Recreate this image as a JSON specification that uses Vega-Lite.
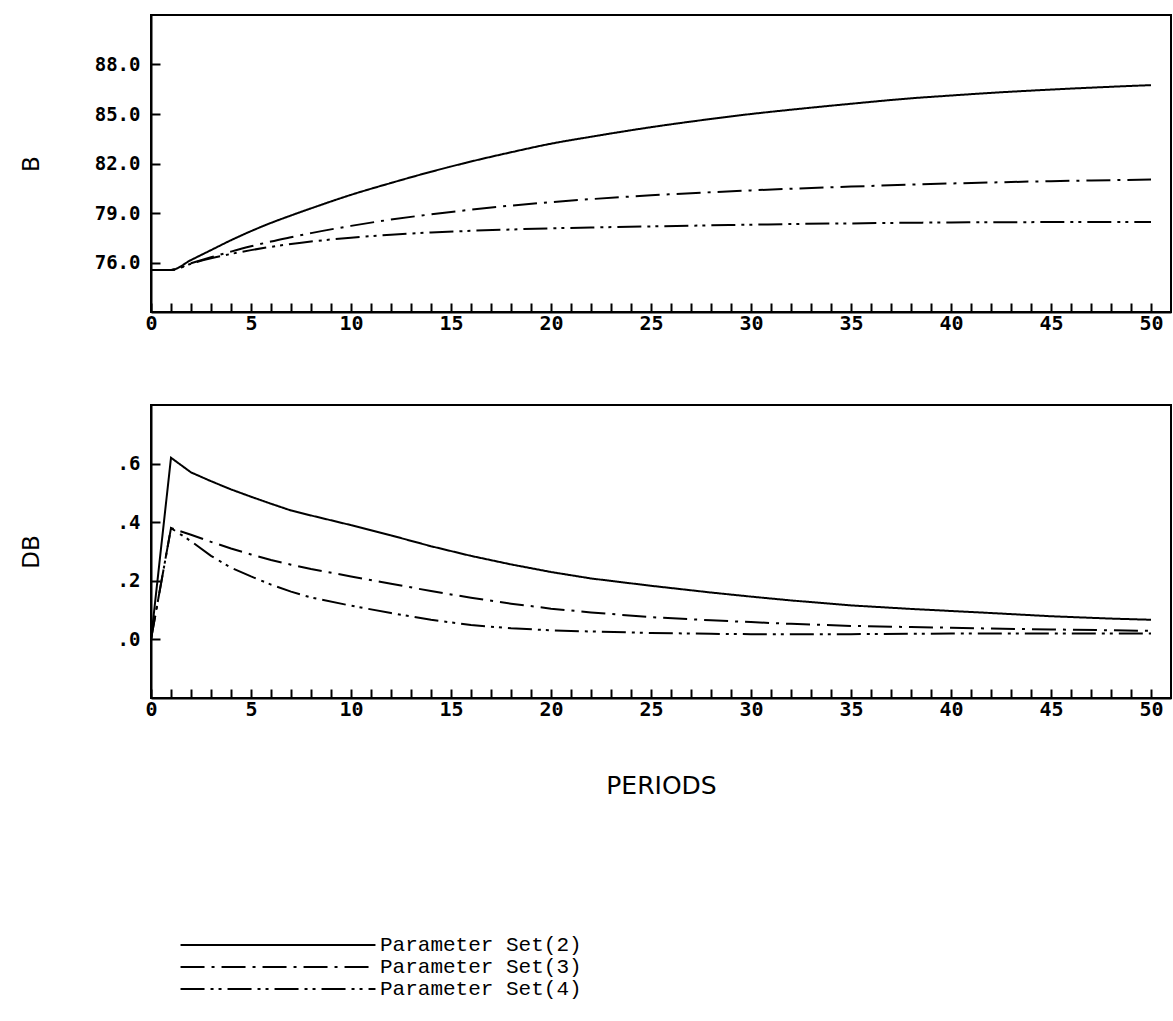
{
"$schema": "https://vega.github.io/schema/vega-lite/v6.json",
"background": "white",
"padding": {"left": 19, "top": 14, "right": 0, "bottom": 12},
"data": {"values": [
{"p":0,"s":"Parameter Set(2)","B":75.55,"DB":0},
{"p":1,"s":"Parameter Set(2)","B":75.55,"DB":0.62},
{"p":2,"s":"Parameter Set(2)","B":76.15,"DB":0.57},
{"p":3,"s":"Parameter Set(2)","B":76.75,"DB":0.54},
{"p":4,"s":"Parameter Set(2)","B":77.35,"DB":0.512},
{"p":5,"s":"Parameter Set(2)","B":77.9,"DB":0.487},
{"p":6,"s":"Parameter Set(2)","B":78.4,"DB":0.463},
{"p":7,"s":"Parameter Set(2)","B":78.85,"DB":0.44},
{"p":8,"s":"Parameter Set(2)","B":79.28,"DB":0.423},
{"p":10,"s":"Parameter Set(2)","B":80.1,"DB":0.39},
{"p":12,"s":"Parameter Set(2)","B":80.82,"DB":0.355},
{"p":14,"s":"Parameter Set(2)","B":81.5,"DB":0.318},
{"p":16,"s":"Parameter Set(2)","B":82.12,"DB":0.285},
{"p":18,"s":"Parameter Set(2)","B":82.68,"DB":0.256},
{"p":20,"s":"Parameter Set(2)","B":83.2,"DB":0.23},
{"p":22,"s":"Parameter Set(2)","B":83.62,"DB":0.208},
{"p":25,"s":"Parameter Set(2)","B":84.2,"DB":0.183},
{"p":28,"s":"Parameter Set(2)","B":84.7,"DB":0.16},
{"p":30,"s":"Parameter Set(2)","B":85.0,"DB":0.146},
{"p":32,"s":"Parameter Set(2)","B":85.26,"DB":0.133},
{"p":35,"s":"Parameter Set(2)","B":85.62,"DB":0.116},
{"p":38,"s":"Parameter Set(2)","B":85.95,"DB":0.104},
{"p":40,"s":"Parameter Set(2)","B":86.12,"DB":0.097},
{"p":42,"s":"Parameter Set(2)","B":86.28,"DB":0.09},
{"p":45,"s":"Parameter Set(2)","B":86.48,"DB":0.079},
{"p":48,"s":"Parameter Set(2)","B":86.65,"DB":0.071},
{"p":50,"s":"Parameter Set(2)","B":86.75,"DB":0.067},
{"p":0,"s":"Parameter Set(3)","B":75.55,"DB":0},
{"p":1,"s":"Parameter Set(3)","B":75.55,"DB":0.38},
{"p":2,"s":"Parameter Set(3)","B":75.95,"DB":0.357},
{"p":3,"s":"Parameter Set(3)","B":76.32,"DB":0.333},
{"p":4,"s":"Parameter Set(3)","B":76.66,"DB":0.31},
{"p":5,"s":"Parameter Set(3)","B":76.98,"DB":0.29},
{"p":6,"s":"Parameter Set(3)","B":77.27,"DB":0.271},
{"p":7,"s":"Parameter Set(3)","B":77.53,"DB":0.255},
{"p":8,"s":"Parameter Set(3)","B":77.78,"DB":0.24},
{"p":10,"s":"Parameter Set(3)","B":78.22,"DB":0.215},
{"p":12,"s":"Parameter Set(3)","B":78.6,"DB":0.19},
{"p":14,"s":"Parameter Set(3)","B":78.92,"DB":0.165},
{"p":16,"s":"Parameter Set(3)","B":79.2,"DB":0.142},
{"p":18,"s":"Parameter Set(3)","B":79.45,"DB":0.122},
{"p":20,"s":"Parameter Set(3)","B":79.66,"DB":0.105},
{"p":22,"s":"Parameter Set(3)","B":79.84,"DB":0.092},
{"p":25,"s":"Parameter Set(3)","B":80.07,"DB":0.076},
{"p":28,"s":"Parameter Set(3)","B":80.26,"DB":0.065},
{"p":30,"s":"Parameter Set(3)","B":80.37,"DB":0.059},
{"p":32,"s":"Parameter Set(3)","B":80.47,"DB":0.053},
{"p":35,"s":"Parameter Set(3)","B":80.6,"DB":0.046},
{"p":38,"s":"Parameter Set(3)","B":80.72,"DB":0.042},
{"p":40,"s":"Parameter Set(3)","B":80.79,"DB":0.04},
{"p":42,"s":"Parameter Set(3)","B":80.85,"DB":0.037},
{"p":45,"s":"Parameter Set(3)","B":80.93,"DB":0.034},
{"p":48,"s":"Parameter Set(3)","B":80.99,"DB":0.031},
{"p":50,"s":"Parameter Set(3)","B":81.03,"DB":0.029},
{"p":0,"s":"Parameter Set(4)","B":75.55,"DB":0},
{"p":1,"s":"Parameter Set(4)","B":75.55,"DB":0.38},
{"p":2,"s":"Parameter Set(4)","B":75.93,"DB":0.335},
{"p":3,"s":"Parameter Set(4)","B":76.25,"DB":0.285},
{"p":4,"s":"Parameter Set(4)","B":76.52,"DB":0.245},
{"p":5,"s":"Parameter Set(4)","B":76.75,"DB":0.215},
{"p":6,"s":"Parameter Set(4)","B":76.95,"DB":0.187},
{"p":7,"s":"Parameter Set(4)","B":77.12,"DB":0.163},
{"p":8,"s":"Parameter Set(4)","B":77.27,"DB":0.143},
{"p":10,"s":"Parameter Set(4)","B":77.5,"DB":0.115},
{"p":12,"s":"Parameter Set(4)","B":77.68,"DB":0.09},
{"p":14,"s":"Parameter Set(4)","B":77.82,"DB":0.067},
{"p":16,"s":"Parameter Set(4)","B":77.92,"DB":0.049},
{"p":18,"s":"Parameter Set(4)","B":78.0,"DB":0.038},
{"p":20,"s":"Parameter Set(4)","B":78.07,"DB":0.031},
{"p":22,"s":"Parameter Set(4)","B":78.12,"DB":0.027},
{"p":25,"s":"Parameter Set(4)","B":78.19,"DB":0.022},
{"p":28,"s":"Parameter Set(4)","B":78.25,"DB":0.019},
{"p":30,"s":"Parameter Set(4)","B":78.29,"DB":0.018},
{"p":32,"s":"Parameter Set(4)","B":78.33,"DB":0.018},
{"p":35,"s":"Parameter Set(4)","B":78.37,"DB":0.018},
{"p":38,"s":"Parameter Set(4)","B":78.41,"DB":0.019},
{"p":40,"s":"Parameter Set(4)","B":78.43,"DB":0.02},
{"p":42,"s":"Parameter Set(4)","B":78.44,"DB":0.02},
{"p":45,"s":"Parameter Set(4)","B":78.45,"DB":0.02},
{"p":48,"s":"Parameter Set(4)","B":78.46,"DB":0.02},
{"p":50,"s":"Parameter Set(4)","B":78.46,"DB":0.02}
]},
"spacing": 70,
"vconcat": [
{
"width": 1020, "height": 297,
"mark": {"type": "line", "interpolate": "monotone", "color": "black", "strokeWidth": 2},
"encoding": {
"x": {"field": "p", "type": "quantitative", "scale": {"domain": [0, 51], "nice": false},
  "axis": {"title": null, "values": [0,1,2,3,4,5,6,7,8,9,10,11,12,13,14,15,16,17,18,19,20,21,22,23,24,25,26,27,28,29,30,31,32,33,34,35,36,37,38,39,40,41,42,43,44,45,46,47,48,49,50],
  "labelExpr": "datum.value % 5 === 0 ? datum.label : ''"}},
"y": {"field": "B", "type": "quantitative", "scale": {"domain": [73, 91], "nice": false, "zero": false},
  "axis": {"title": "B", "values": [76, 79, 82, 85, 88], "format": ".1f"}},
"strokeDash": {"field": "s", "type": "nominal",
  "scale": {"domain": ["Parameter Set(2)", "Parameter Set(3)", "Parameter Set(4)"], "range": [[1, 0], [24, 7, 3, 7], [24, 6, 3, 5, 3, 6]]},
  "legend": {"title": null, "orient": "none", "legendX": 116, "legendY": 919, "padding": 0,
    "symbolType": "M-10,0L10,0", "symbolSize": 380, "symbolStrokeWidth": 2, "symbolStrokeColor": "black", "symbolFillColor": "transparent",
    "labelFont": "Liberation Mono", "labelFontSize": 21, "labelColor": "black", "rowPadding": 1, "labelOffset": 91, "labelLimit": 400}}
}
},
{
"width": 1020, "height": 293,
"mark": {"type": "line", "interpolate": "linear", "color": "black", "strokeWidth": 2},
"encoding": {
"x": {"field": "p", "type": "quantitative", "scale": {"domain": [0, 51], "nice": false},
  "axis": {"title": "PERIODS", "values": [0,1,2,3,4,5,6,7,8,9,10,11,12,13,14,15,16,17,18,19,20,21,22,23,24,25,26,27,28,29,30,31,32,33,34,35,36,37,38,39,40,41,42,43,44,45,46,47,48,49,50],
  "labelExpr": "datum.value % 5 === 0 ? datum.label : ''", "titlePadding": 54, "titleFont": "DejaVu Sans", "titleFontSize": 25, "titleFontWeight": "normal"}},
"y": {"field": "DB", "type": "quantitative", "scale": {"domain": [-0.2, 0.8], "nice": false, "zero": false},
  "axis": {"title": "DB", "values": [0, 0.2, 0.4, 0.6], "labelExpr": "replace(format(datum.value, '.1f'), '0.', '.')"}},
"strokeDash": {"field": "s", "type": "nominal"}
}
}
],
"config": {
"view": {"stroke": "black", "strokeWidth": 2},
"axis": {"grid": false, "domainColor": "black", "domainWidth": 2, "tickColor": "black", "tickWidth": 2, "tickSize": -9,
  "labelFont": "DejaVu Sans Mono", "labelFontWeight": "bold", "labelFontSize": 19, "labelColor": "black",
  "titleFont": "DejaVu Sans", "titleFontWeight": "normal", "titleFontSize": 23, "titleColor": "black"},
"axisY": {"labelPadding": 20, "titlePadding": 38, "minExtent": 70, "maxExtent": 70},
"axisX": {"labelPadding": 10, "labelFlush": false, "labelFontSize": 20}
}
}
